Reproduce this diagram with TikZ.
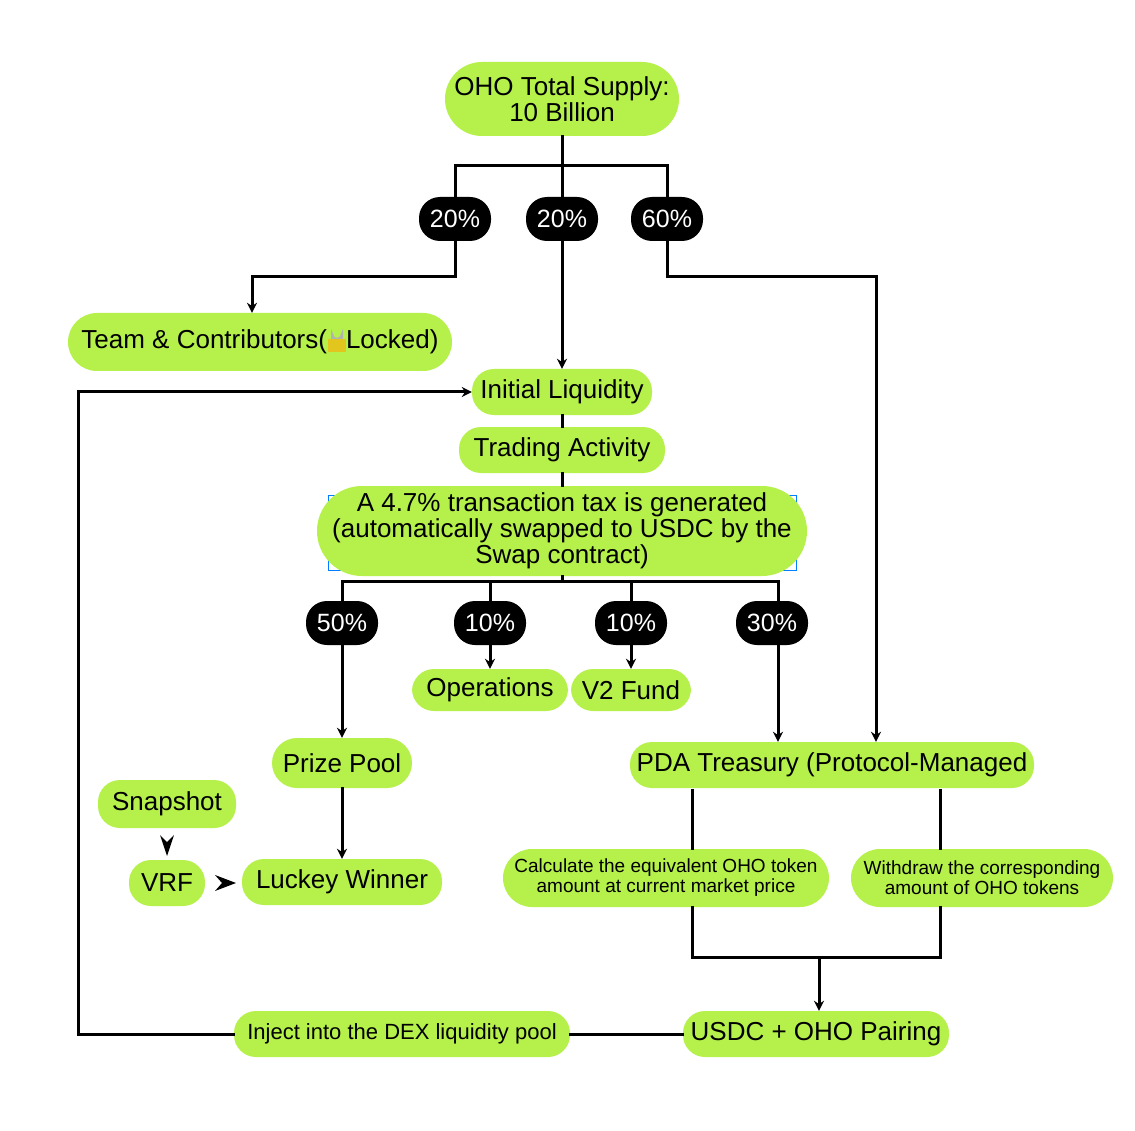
\documentclass[tikz,border=0pt]{standalone}
\usepackage{fontspec}
\setmainfont{Liberation Sans}
\usetikzlibrary{arrows.meta}
\definecolor{lime}{HTML}{B5F14A}
\begin{document}
\begin{tikzpicture}[x=1pt,y=-1pt,
  box/.style={fill=lime,rounded corners=#1,inner sep=0pt,font=\fontsize{26}{26}\selectfont,align=center},
  box/.default=22pt,
  pct/.style={fill=black,text=white,rounded corners=21pt,minimum width=72pt,minimum height=44pt,inner sep=0pt,font=\fontsize{25}{25}\selectfont},
  ln/.style={line width=3pt,line cap=rect},
  ar/.style={ln,-{Stealth[length=10pt,width=10pt]}}]
\useasboundingbox (0,0) rectangle (1135,1131);
\fill[white] (0,0) rectangle (1135,1131);
% nodes
\node[box=37pt,minimum width=234pt,minimum height=74pt] (top) at (562,99) {OHO Total Supply:\\10 Billion};
\node[pct] (p1) at (455,219) {20\%};
\node[pct] (p2) at (562,219) {20\%};
\node[pct] (p3) at (667,219) {60\%};
\node[box=29pt,minimum width=384pt,minimum height=58pt] (team) at (260,342) {Team \& Contributors(\hspace{19pt}Locked)};
\draw[line width=2pt,color=gray!60] (332,340) -- (332,334) arc(180:0:5) -- (342,340);
\fill[color=brown!45!yellow] (328,339) rectangle (346,352);
\node[box,minimum width=180pt,minimum height=46pt] (il) at (562,392) {Initial Liquidity};
\node[box,minimum width=206pt,minimum height=46pt] (ta) at (562,450) {Trading Activity};
\draw[color=blue!50!cyan,line width=0.8pt] (328,495) rectangle (796,570);
\node[box=45pt,minimum width=490pt,minimum height=90pt] (tax) at (562,531) {A 4.7\% transaction tax is generated\\(automatically swapped to USDC by the\\Swap contract)};
\node[pct] (q1) at (342,623) {50\%};
\node[pct] (q2) at (490,623) {10\%};
\node[pct] (q3) at (631,623) {10\%};
\node[pct] (q4) at (772,623) {30\%};
\node[box,minimum width=156pt,minimum height=42pt] (ops) at (490,690) {Operations};
\node[box,minimum width=120pt,minimum height=42pt] (v2) at (631,690) {V2 Fund};
\node[box=25pt,minimum width=140pt,minimum height=50pt] (pp) at (342,763) {Prize Pool};
\node[box,minimum width=404pt,minimum height=46pt] (pda) at (832,765) {PDA Treasury (Protocol-Managed};
\node[box,minimum width=138pt,minimum height=48pt] (snap) at (167,804) {Snapshot};
\node[box,minimum width=76pt,minimum height=46pt] (vrf) at (167,883) {VRF};
\node[box,minimum width=200pt,minimum height=46pt] (lw) at (342,882) {Luckey Winner};
\node[box=29pt,minimum width=326pt,minimum height=58pt,font=\fontsize{19}{20}\selectfont] (calc) at (666,878) {Calculate the equivalent OHO token\\amount at current market price};
\node[box=29pt,minimum width=262pt,minimum height=58pt,font=\fontsize{19}{20}\selectfont] (wd) at (982,878) {Withdraw the corresponding\\amount of OHO tokens};
\node[box,minimum width=266pt,minimum height=46pt] (usdc) at (816,1034) {USDC + OHO Pairing};
\node[box,minimum width=336pt,minimum height=46pt,font=\fontsize{22}{22}\selectfont] (inj) at (402,1034) {Inject into the DEX liquidity pool};
% connectors
\coordinate (s) at (562,166);
\draw[ln] (top.south) -- (s);
\draw[ln] (p1.north) |- (p3.north |- s) -- (p3.north);
\draw[ln] (p2.north) -- (s);
\draw[ar] (p1.south) |- (252,277) -- (team.north -| 252,0);
\draw[ar] (p2.south) -- (il.north);
\draw[ar] (p3.south) |- (876,277) -- (pda.north -| 876,0);
\draw[ln] (il.south) -- (ta.north);
\draw[ln] (ta.south) -- (tax.north);
\coordinate (h) at (562,581);
\draw[ln] (q1.north) |- (778,581) -- (q4.north -| 778,0);
\draw[ln] (q2.north) -- (q2.north |- h);
\draw[ln] (q3.north) -- (q3.north |- h);
\draw[ln] (tax.south) -- (h);
\draw[ar] (q1.south) -- (pp.north);
\draw[ar] (q2.south) -- (ops.north);
\draw[ar] (q3.south) -- (v2.north);
\draw[ar] (q4.south -| 778,0) -- (pda.north -| 778,0);
\draw[ar] (pp.south) -- (lw.north);
\fill (160,835) -- (167,842) -- (174,835) -- (167,856) -- cycle;
\fill (215,875) -- (222,883) -- (215,891) -- (236,883) -- cycle;
\draw[ln] (692,790) -- (692,848);
\draw[ln] (940,790) -- (940,848);
\draw[ln] (692,907) |- (940,957) -- (940,907);
\draw[ar] (819,957) -- (usdc.north -| 819,0);
\draw[ln] (usdc.west) -- (inj.east);
\draw[ar] (inj.west) -| (78,392) -- (il.west);
\end{tikzpicture}
\end{document}
